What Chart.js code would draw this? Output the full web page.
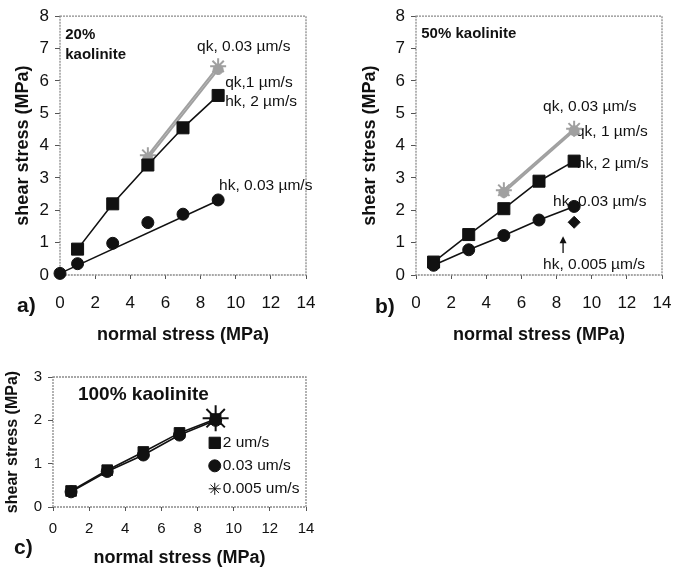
<!DOCTYPE html>
<html>
<head>
<meta charset="utf-8">
<script src="https://cdn.jsdelivr.net/npm/chart.js@4.4.0/dist/chart.umd.min.js"></script>
<style>
    body { margin: 0; background: #fff; width: 673px; height: 571px; position: relative; overflow: hidden; font-family: "Liberation Sans", Arial, sans-serif; }
    canvas { position: absolute; }
    .tag { position: absolute; font-weight: bold; font-size: 21px; color: #111; line-height: 24px; }
</style>
</head>
<body>
<canvas id="chartA" width="330" height="350" style="left:0;top:0"></canvas>
<canvas id="chartB" width="356" height="350" style="left:330px;top:0"></canvas>
<canvas id="chartC" width="330" height="226" style="left:0;top:345px"></canvas>
<div class="tag" style="left:17px;top:293px">a)</div>
<div class="tag" style="left:375px;top:294px">b)</div>
<div class="tag" style="left:14px;top:535px">c)</div>
<script>
// normal stress (MPa) of each run and the measured shear stress (MPa)
// a) 20% kaolinite
const stressA = [0, 1, 3, 5, 7, 9];
const hkSlowA = [0.05, 0.35, 0.98, 1.62, 1.88, 2.32];
const stressFastA = [1, 3, 5, 7, 9];
const hkFastA = [0.8, 2.2, 3.4, 4.55, 5.55];
const stressQk = [5, 9];
const qk003A = [3.7, 6.45];
const qk1A = [3.6, 6.35];
const fitStressA = [0, 9];
const hkSlowFitA = [0.05, 2.3];

// b) 50% kaolinite
const stressB = [1, 3, 5, 7, 9];
const hkFastB = [0.4, 1.25, 2.05, 2.9, 3.52];
const hkSlowB = [0.3, 0.78, 1.22, 1.7, 2.12];
const qk003B = [2.62, 4.52];
const qk1B = [2.55, 4.46];
const stressSlowestB = [9];
const hkSlowestB = [1.63];

// c) 100% kaolinite
const stressC = [1, 3, 5, 7, 9];
const fastC = [0.37, 0.85, 1.27, 1.71, 2.03];
const slowC = [0.35, 0.82, 1.2, 1.66, 2.0];
const stressSlowestC = [9];
const slowestC = [2.05];

const xTicks = [0, 2, 4, 6, 8, 10, 12, 14];

Chart.defaults.font.family = '"Liberation Sans", Arial, sans-serif';
Chart.defaults.color = '#111';

function pts(xs, ys) {
    return xs.map((x, i) => ({ x: x, y: ys[i] }));
}

function series(xs, ys, style, radius, color, showLine) {
    return {
        data: pts(xs, ys),
        borderColor: color,
        backgroundColor: color,
        pointStyle: style,
        pointRadius: radius,
        pointHoverRadius: radius,
        pointBorderWidth: style === 'star' ? 2 : 1,
        borderWidth: color === '#111' ? 1.6 : 2,
        showLine: showLine,
        clip: false
    };
}

// frame, labels, arrow and in-plot legend
function notes(cfg) {
    return {
        id: 'notes',
        beforeDatasetsDraw(chart) {
            const { ctx, chartArea: a, scales: { x, y } } = chart;
            ctx.save();
            ctx.strokeStyle = '#8a8a8a';
            ctx.lineWidth = 1.3;
            ctx.setLineDash([2, 1]);
            ctx.strokeRect(a.left, a.top, a.right - a.left, a.bottom - a.top);
            ctx.setLineDash([]);
            ctx.fillStyle = '#111';
            ctx.textAlign = 'left';
            ctx.textBaseline = 'middle';
            (cfg.texts || []).forEach(t => {
                ctx.font = t.font;
                ctx.fillText(t.text, x.getPixelForValue(t.x), y.getPixelForValue(t.y));
            });
            if (cfg.arrow) {
                const px = x.getPixelForValue(cfg.arrow.x);
                const tip = y.getPixelForValue(cfg.arrow.tip);
                const base = y.getPixelForValue(cfg.arrow.base);
                ctx.strokeStyle = '#111';
                ctx.lineWidth = 1.3;
                ctx.beginPath();
                ctx.moveTo(px, base);
                ctx.lineTo(px, tip + 4);
                ctx.stroke();
                ctx.beginPath();
                ctx.moveTo(px, tip);
                ctx.lineTo(px - 3.5, tip + 7);
                ctx.lineTo(px + 3.5, tip + 7);
                ctx.closePath();
                ctx.fill();
            }
            ctx.restore();
        },
        afterDatasetsDraw(chart) {
            if (!cfg.legend) return;
            const { ctx, scales: { x, y } } = chart;
            ctx.save();
            ctx.fillStyle = '#111';
            ctx.strokeStyle = '#111';
            ctx.font = '15.5px "Liberation Sans", Arial';
            ctx.textAlign = 'left';
            ctx.textBaseline = 'middle';
            cfg.legend.forEach(item => {
                const py = y.getPixelForValue(item.y);
                const px = x.getPixelForValue(item.x);
                Chart.helpers.drawPoint(ctx, { pointStyle: item.style, radius: item.radius, rotation: 0, borderWidth: 2.5 }, px, py);
                ctx.fillText(item.label, px + 8, py);
            });
            ctx.restore();
        }
    };
}

function axes(ymax, yW, yTitlePad, xH, xTitlePad, tickSize, yTitleSize, xTickPad) {
    return {
        x: {
            type: 'linear', min: 0, max: 14,
            afterBuildTicks: s => { s.ticks = xTicks.map(v => ({ value: v })); },
            afterFit: s => { s.height = xH; },
            ticks: { font: { size: tickSize }, padding: xTickPad, maxRotation: 0 },
            grid: { drawOnChartArea: false, tickLength: 4, color: '#555' },
            border: { display: false },
            title: { display: true, text: 'normal stress (MPa)', font: { size: 18, weight: 'bold' }, padding: { top: 0, bottom: xTitlePad } }
        },
        y: {
            min: 0, max: ymax,
            ticks: { stepSize: 1, font: { size: tickSize }, padding: 6 },
            afterFit: s => { s.width = yW; },
            grid: { drawOnChartArea: false, tickLength: 5, color: '#555' },
            border: { display: false },
            title: { display: true, text: 'shear stress (MPa)', font: { size: yTitleSize, weight: 'bold' }, padding: { top: yTitlePad, bottom: 0 } }
        }
    };
}

const baseOptions = {
    responsive: false,
    animation: false,
    plugins: { legend: { display: false }, tooltip: { enabled: false } }
};

const gray = '#a0a0a0';
const black = '#111';
const labelFont = '15.5px "Liberation Sans", Arial';
const boldFont = 'bold 15px "Liberation Sans", Arial';

// a) 20% kaolinite
new Chart(document.getElementById('chartA'), {
    type: 'scatter',
    data: {
        datasets: [
            series(stressA, hkSlowA, 'circle', 6, black, false),
            series(fitStressA, hkSlowFitA, false, 0, black, true),
            series(stressFastA, hkFastA, 'rect', 8.5, black, true),
            series(stressQk, qk1A, 'circle', 5, gray, true),
            series(stressQk, qk003A, 'star', 8, gray, true)
        ]
    },
    options: Object.assign({}, baseOptions, {
        layout: { padding: { top: 14, right: 24, left: 0, bottom: 0 } },
        scales: axes(8, 60, 12, 75, 4, 17, 18, 14)
    }),
    plugins: [notes({
        texts: [
            { text: '20%', x: 0.3, y: 7.42, font: boldFont },
            { text: 'kaolinite', x: 0.3, y: 6.8, font: boldFont },
            { text: 'qk, 0.03 µm/s', x: 7.8, y: 7.05, font: labelFont },
            { text: 'qk,1 µm/s', x: 9.4, y: 5.95, font: labelFont },
            { text: 'hk, 2 µm/s', x: 9.4, y: 5.37, font: labelFont },
            { text: 'hk, 0.03 µm/s', x: 9.05, y: 2.76, font: labelFont }
        ]
    })]
});

// b) 50% kaolinite
new Chart(document.getElementById('chartB'), {
    type: 'scatter',
    data: {
        datasets: [
            series(stressB, hkSlowB, 'circle', 6, black, true),
            series(stressB, hkFastB, 'rect', 8.5, black, true),
            series(stressSlowestB, hkSlowestB, 'rectRot', 6, black, false),
            series(stressQk, qk1B, 'circle', 5, gray, true),
            series(stressQk, qk003B, 'star', 8, gray, true)
        ]
    },
    options: Object.assign({}, baseOptions, {
        layout: { padding: { top: 15, right: 24, left: 0, bottom: 0 } },
        scales: axes(8, 86, 29, 75, 4, 17, 18, 14)
    }),
    plugins: [notes({
        texts: [
            { text: '50% kaolinite', x: 0.3, y: 7.45, font: boldFont },
            { text: 'qk, 0.03 µm/s', x: 7.23, y: 5.2, font: labelFont },
            { text: 'qk, 1 µm/s', x: 9.1, y: 4.43, font: labelFont },
            { text: 'hk, 2 µm/s', x: 9.15, y: 3.45, font: labelFont },
            { text: 'hk, 0.03 µm/s', x: 7.8, y: 2.25, font: labelFont },
            { text: 'hk, 0.005 µm/s', x: 7.23, y: 0.31, font: labelFont }
        ],
        arrow: { x: 8.37, tip: 1.2, base: 0.68 }
    })]
});

// c) 100% kaolinite
new Chart(document.getElementById('chartC'), {
    type: 'scatter',
    data: {
        datasets: [
            series(stressC, slowC, 'circle', 6, black, true),
            series(stressC, fastC, 'rect', 7.5, black, true),
            series(stressSlowestC, slowestC, 'star', 13, black, false)
        ]
    },
    options: Object.assign({}, baseOptions, {
        layout: { padding: { top: 32, right: 24, left: 0, bottom: 0 } },
        scales: axes(3, 53, 3, 64, 2, 15, 16, 9)
    }),
    plugins: [notes({
        texts: [
            { text: '100% kaolinite', x: 1.38, y: 2.58, font: 'bold 19px "Liberation Sans", Arial' }
        ],
        legend: [
            { style: 'rect', radius: 8, label: '2 um/s', x: 8.95, y: 1.48 },
            { style: 'circle', radius: 6, label: '0.03 um/s', x: 8.95, y: 0.95 },
            { style: 'star', radius: 6, label: '0.005 um/s', x: 8.95, y: 0.42 }
        ]
    })]
});
</script>
</body>
</html>
